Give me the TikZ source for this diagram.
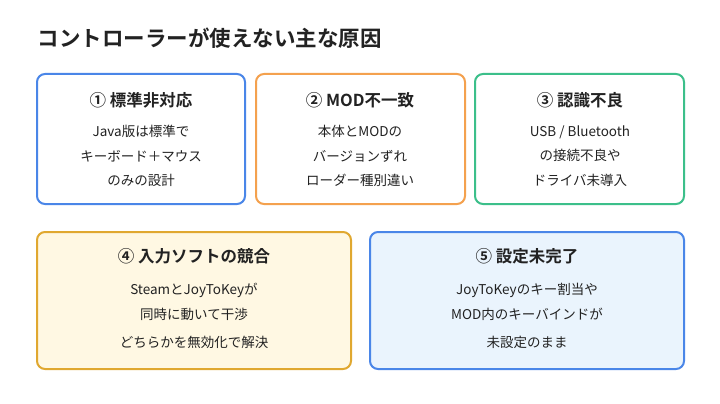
\documentclass[tikz,border=0pt]{standalone}
\usepackage{fontspec}
\setmainfont{Noto Sans CJK JP}
\newfontfamily\jpbold{Noto Sans CJK JP Bold}
\usetikzlibrary{positioning}
\definecolor{cblue}{HTML}{4A86E8}
\definecolor{corange}{HTML}{F4A14E}
\definecolor{cgreen}{HTML}{3CBF8A}
\definecolor{cgold}{HTML}{E0A830}
\definecolor{cyellowbg}{HTML}{FFF8E3}
\definecolor{cbluebg}{HTML}{EAF4FD}
\definecolor{ctext}{HTML}{222222}
\tikzset{
  card/.style={draw=#1, line width=2pt, rounded corners=8pt, fill=white},
  head/.style={font=\jpbold\fontsize{16.5}{20}\selectfont, text=ctext},
  body/.style={font=\fontsize{13.5}{24.5}\selectfont, text=ctext, align=center}
}
\begin{document}
\begin{tikzpicture}[x=1pt,y=-1pt]
    \useasboundingbox[fill=white] (0,0) rectangle (720,404);
    % Title
    \node[anchor=west, font=\jpbold\fontsize{21.5}{26}\selectfont, text=ctext] (title) at (34,38) {コントローラーが使えない主な原因};

    % Top row
    \draw[card=cblue] (37,74) rectangle (245,204);
    \node[head] (h1) at (141,100) {① 標準非対応};
    \node[body] (b1) at (141,156) {Java版は標準で\\キーボード＋マウス\\のみの設計};

    \draw[card=corange] (256,74) rectangle (465,204);
    \node[head] (h2) at (360,100) {② MOD不一致};
    \node[body] (b2) at (360,156) {本体とMODの\\バージョンずれ\\ローダー種別違い};

    \draw[card=cgreen] (475,74) rectangle (684,204);
    \node[head] (h3) at (580,100) {③ 認識不良};
    \node[body] (b3) at (580,156) {USB / Bluetooth\\の接続不良や\\ドライバ未導入};

    % Bottom row
    \draw[card=cgold, fill=cyellowbg] (37,232) rectangle (351,369);
    \node[head] (h4) at (194,256) {④ 入力ソフトの競合};
    \node[body] (b4) at (194,302) {SteamとJoyToKeyが\\同時に動いて干渉};
    \node[body] (c4) at (194,342) {どちらかを無効化で解決};

    \draw[card=cblue, fill=cbluebg] (370,232) rectangle (684,369);
    \node[head] (h5) at (527,256) {⑤ 設定未完了};
    \node[body] (b5) at (527,302) {JoyToKeyのキー割当や\\MOD内のキーバインドが};
    \node[body] (c5) at (527,342) {未設定のまま};
\end{tikzpicture}
\end{document}
